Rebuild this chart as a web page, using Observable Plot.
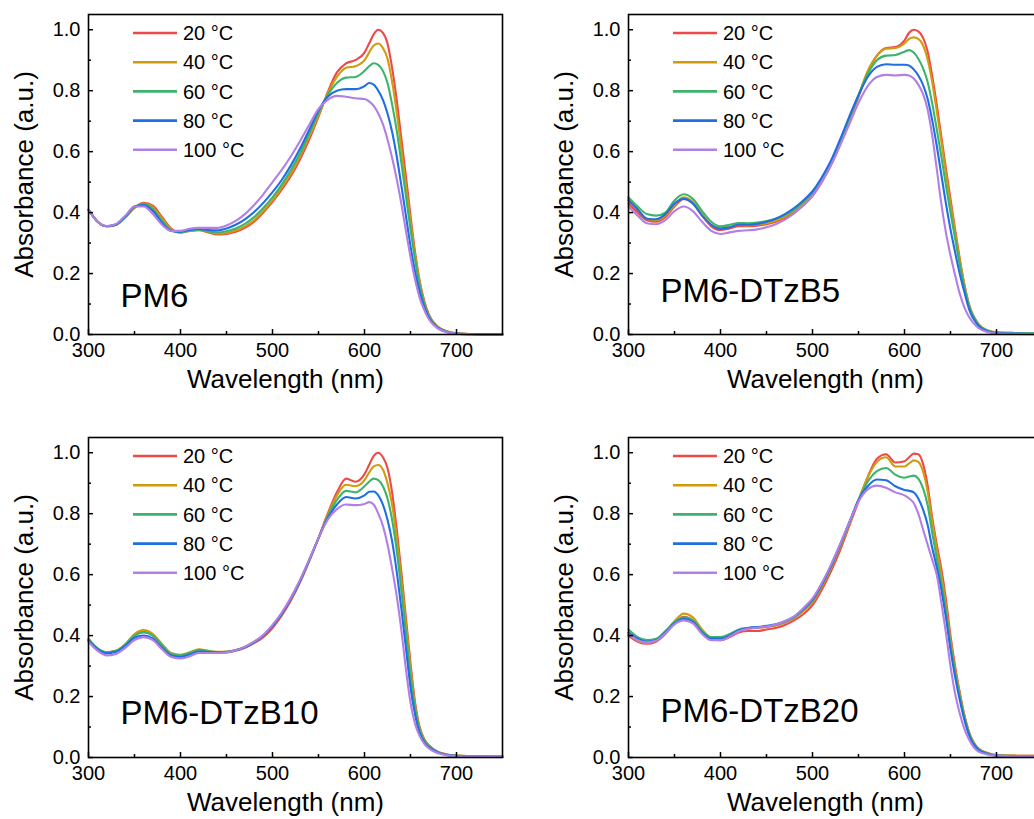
<!DOCTYPE html>
<html><head><meta charset="utf-8">
<script src="https://cdn.jsdelivr.net/npm/d3@7"></script>
<script src="https://cdn.jsdelivr.net/npm/@observablehq/plot@0.6"></script>
<style>
html,body{margin:0;padding:0;background:#fff;overflow:hidden;}
#wrap{position:relative;width:1100px;height:819px;}
.panel{position:absolute;}
</style></head><body><div id="wrap"></div>
<script>
const wavelengths = [300,310,320,330,340,350,360,370,380,390,
 400,410,420,430,440,450,460,470,480,490,
 500,510,520,530,540,550,560,570,580,590,
 600,605,610,615,620,625,630,635,640,645,
 650,655,660,665,670,680,690,700,720,750];
const temps = ["20 °C","40 °C","60 °C","80 °C","100 °C"];
const colors = ["#F04848","#CF9C0E","#3DB36C","#1F6FE3","#B27FE6"];
const panelNames = ["PM6","PM6-DTzB5","PM6-DTzB10","PM6-DTzB20"];

// PM6
const pm6_20 = [0.41,0.37,0.355,0.36,0.385,0.415,0.432,0.423,0.385,0.348,
 0.335,0.34,0.342,0.335,0.328,0.33,0.337,0.35,0.37,0.40,
 0.435,0.475,0.52,0.575,0.64,0.715,0.795,0.86,0.89,0.90,
 0.925,0.955,0.985,1.0,0.99,0.955,0.875,0.77,0.645,0.52,
 0.39,0.27,0.175,0.11,0.065,0.025,0.01,0.004,0.001,0];
const pm6_40 = [0.41,0.37,0.355,0.36,0.385,0.417,0.43,0.418,0.38,0.345,
 0.335,0.34,0.343,0.337,0.331,0.333,0.341,0.355,0.375,0.405,
 0.44,0.482,0.528,0.585,0.65,0.72,0.79,0.845,0.875,0.88,
 0.90,0.925,0.948,0.955,0.94,0.905,0.83,0.73,0.61,0.49,
 0.37,0.26,0.17,0.105,0.062,0.024,0.01,0.004,0.001,0];
const pm6_60 = [0.41,0.37,0.355,0.36,0.386,0.418,0.428,0.412,0.373,0.342,
 0.335,0.341,0.344,0.339,0.335,0.339,0.348,0.363,0.385,0.415,
 0.45,0.492,0.54,0.595,0.66,0.728,0.785,0.825,0.843,0.845,
 0.865,0.88,0.89,0.885,0.865,0.825,0.755,0.67,0.565,0.455,
 0.345,0.245,0.16,0.1,0.06,0.023,0.009,0.003,0.001,0];
const pm6_80 = [0.41,0.37,0.355,0.361,0.387,0.42,0.425,0.405,0.366,0.34,
 0.337,0.343,0.346,0.343,0.342,0.348,0.36,0.378,0.402,0.432,
 0.467,0.507,0.555,0.61,0.672,0.735,0.78,0.8,0.805,0.805,
 0.815,0.825,0.82,0.8,0.77,0.725,0.665,0.585,0.49,0.39,
 0.29,0.205,0.14,0.09,0.055,0.021,0.008,0.003,0.001,0];
const pm6_100 = [0.41,0.37,0.356,0.363,0.39,0.42,0.42,0.395,0.36,0.34,
 0.34,0.347,0.35,0.35,0.35,0.358,0.373,0.395,0.425,0.46,
 0.5,0.54,0.585,0.635,0.688,0.74,0.77,0.783,0.78,0.775,
 0.773,0.765,0.75,0.725,0.69,0.64,0.58,0.51,0.43,0.34,
 0.255,0.18,0.12,0.08,0.05,0.019,0.007,0.003,0.001,0];

// PM6-DTzB5
const b5_20 = [0.43,0.40,0.375,0.37,0.385,0.42,0.445,0.43,0.39,0.355,
 0.343,0.348,0.355,0.355,0.357,0.362,0.37,0.383,0.40,0.425,
 0.455,0.50,0.555,0.625,0.70,0.78,0.86,0.915,0.94,0.943,
 0.965,0.99,1.0,0.995,0.975,0.93,0.85,0.755,0.65,0.545,
 0.445,0.345,0.25,0.165,0.1,0.035,0.012,0.006,0.003,0.002];
const b5_40 = [0.445,0.41,0.38,0.375,0.39,0.425,0.45,0.435,0.395,0.36,
 0.35,0.353,0.36,0.358,0.36,0.365,0.373,0.387,0.405,0.43,
 0.46,0.505,0.56,0.63,0.705,0.785,0.865,0.915,0.938,0.94,
 0.955,0.97,0.975,0.97,0.95,0.905,0.83,0.735,0.635,0.53,
 0.43,0.335,0.245,0.165,0.1,0.036,0.014,0.007,0.005,0.004];
const b5_60 = [0.45,0.42,0.395,0.39,0.40,0.44,0.46,0.445,0.405,0.37,
 0.355,0.36,0.366,0.365,0.367,0.372,0.38,0.392,0.41,0.435,
 0.465,0.51,0.565,0.635,0.71,0.785,0.855,0.90,0.915,0.917,
 0.928,0.933,0.925,0.905,0.875,0.83,0.76,0.675,0.585,0.49,
 0.40,0.315,0.23,0.155,0.095,0.034,0.013,0.007,0.005,0.004];
const b5_80 = [0.44,0.41,0.38,0.378,0.395,0.43,0.445,0.43,0.39,0.36,
 0.347,0.352,0.36,0.36,0.363,0.37,0.38,0.395,0.415,0.44,
 0.47,0.515,0.57,0.64,0.715,0.785,0.845,0.878,0.887,0.885,
 0.885,0.883,0.87,0.85,0.82,0.775,0.705,0.62,0.525,0.43,
 0.345,0.27,0.2,0.14,0.085,0.03,0.011,0.005,0.003,0.002];
const b5_100 = [0.42,0.39,0.365,0.362,0.375,0.405,0.42,0.405,0.37,0.34,
 0.33,0.335,0.34,0.342,0.345,0.352,0.362,0.377,0.397,0.423,
 0.455,0.50,0.555,0.62,0.69,0.76,0.815,0.845,0.852,0.85,
 0.852,0.85,0.84,0.82,0.79,0.74,0.655,0.545,0.43,0.335,
 0.26,0.195,0.135,0.09,0.058,0.022,0.008,0.003,0.002,0.001];

// PM6-DTzB10
const b10_20 = [0.385,0.355,0.345,0.35,0.37,0.40,0.415,0.40,0.37,0.34,
 0.335,0.342,0.352,0.348,0.345,0.345,0.35,0.36,0.375,0.395,
 0.425,0.465,0.515,0.575,0.645,0.72,0.80,0.87,0.915,0.905,
 0.93,0.96,0.99,1.0,0.985,0.95,0.87,0.75,0.61,0.46,
 0.31,0.18,0.1,0.06,0.04,0.018,0.01,0.006,0.004,0.003];
const b10_40 = [0.385,0.357,0.345,0.35,0.372,0.405,0.418,0.405,0.372,0.343,
 0.337,0.345,0.355,0.35,0.347,0.348,0.353,0.363,0.38,0.40,
 0.432,0.472,0.522,0.58,0.648,0.72,0.795,0.86,0.895,0.89,
 0.91,0.935,0.955,0.96,0.945,0.9,0.83,0.72,0.585,0.44,
 0.295,0.17,0.095,0.058,0.038,0.017,0.009,0.006,0.004,0.003];
const b10_60 = [0.39,0.358,0.345,0.35,0.37,0.4,0.41,0.4,0.368,0.34,
 0.335,0.343,0.353,0.349,0.346,0.347,0.352,0.362,0.378,0.40,
 0.432,0.472,0.522,0.58,0.648,0.72,0.79,0.845,0.875,0.87,
 0.89,0.905,0.915,0.91,0.89,0.85,0.78,0.68,0.55,0.41,
 0.27,0.16,0.09,0.055,0.037,0.017,0.009,0.006,0.004,0.003];
const b10_80 = [0.385,0.355,0.342,0.347,0.367,0.393,0.40,0.39,0.36,0.335,
 0.33,0.338,0.348,0.346,0.345,0.346,0.352,0.362,0.378,0.40,
 0.432,0.472,0.522,0.58,0.648,0.72,0.785,0.83,0.855,0.85,
 0.86,0.872,0.873,0.86,0.83,0.78,0.71,0.61,0.49,0.36,
 0.23,0.14,0.08,0.05,0.034,0.016,0.008,0.005,0.003,0.002];
const b10_100 = [0.38,0.35,0.335,0.34,0.36,0.385,0.395,0.385,0.355,0.33,
 0.325,0.332,0.343,0.343,0.343,0.345,0.352,0.363,0.38,0.402,
 0.435,0.475,0.525,0.583,0.65,0.72,0.78,0.815,0.83,0.828,
 0.832,0.838,0.83,0.80,0.76,0.70,0.62,0.53,0.42,0.29,
 0.18,0.11,0.07,0.045,0.03,0.014,0.007,0.004,0.003,0.002];

// PM6-DTzB20
const b20_20 = [0.40,0.38,0.373,0.38,0.405,0.44,0.462,0.45,0.415,0.39,
 0.385,0.395,0.41,0.415,0.415,0.42,0.425,0.435,0.45,0.47,
 0.50,0.55,0.61,0.68,0.76,0.84,0.92,0.98,0.995,0.968,
 0.972,0.985,0.997,0.995,0.965,0.895,0.79,0.70,0.62,0.52,
 0.40,0.30,0.215,0.14,0.085,0.03,0.015,0.008,0.006,0.005];
const b20_40 = [0.405,0.383,0.376,0.383,0.41,0.447,0.472,0.46,0.42,0.393,
 0.39,0.402,0.418,0.423,0.425,0.428,0.432,0.442,0.457,0.48,
 0.51,0.56,0.62,0.69,0.765,0.845,0.92,0.97,0.985,0.955,
 0.955,0.965,0.975,0.97,0.94,0.875,0.775,0.685,0.6,0.5,
 0.385,0.29,0.21,0.138,0.083,0.03,0.015,0.008,0.006,0.005];
const b20_60 = [0.42,0.395,0.385,0.39,0.415,0.445,0.46,0.45,0.415,0.395,
 0.395,0.405,0.42,0.425,0.427,0.43,0.435,0.445,0.46,0.485,
 0.515,0.565,0.625,0.695,0.77,0.845,0.905,0.94,0.95,0.928,
 0.918,0.922,0.925,0.915,0.885,0.83,0.74,0.655,0.575,0.48,
 0.37,0.28,0.2,0.132,0.08,0.028,0.014,0.007,0.005,0.004];
const b20_80 = [0.41,0.39,0.38,0.385,0.41,0.44,0.455,0.445,0.41,0.39,
 0.39,0.4,0.418,0.425,0.428,0.432,0.437,0.447,0.462,0.487,
 0.518,0.568,0.628,0.698,0.772,0.845,0.89,0.912,0.91,0.89,
 0.878,0.875,0.87,0.85,0.815,0.765,0.69,0.625,0.55,0.46,
 0.355,0.265,0.19,0.125,0.075,0.026,0.012,0.006,0.004,0.003];
const b20_100 = [0.405,0.385,0.378,0.383,0.407,0.437,0.45,0.44,0.405,0.385,
 0.385,0.396,0.414,0.422,0.426,0.43,0.436,0.447,0.463,0.49,
 0.522,0.572,0.632,0.7,0.772,0.84,0.88,0.892,0.885,0.87,
 0.86,0.85,0.835,0.80,0.75,0.70,0.65,0.60,0.51,0.41,
 0.30,0.21,0.145,0.095,0.06,0.02,0.01,0.006,0.004,0.003];

const xTicks = [300,400,500,600,700];
const xMinor = [350,450,550,650];
const yTicks = [0,0.2,0.4,0.6,0.8,1.0];
const yMinor = [0.1,0.3,0.5,0.7,0.9];
const xLabel = "Wavelength (nm)";
const yLabel = "Absorbance (a.u.)";

const panels = [
  {name: panelNames[0], series: [pm6_20,pm6_40,pm6_60,pm6_80,pm6_100], left: 0, top: 0, up: 38},
  {name: panelNames[1], series: [b5_20,b5_40,b5_60,b5_80,b5_100], left: 540, top: 0, up: 43},
  {name: panelNames[2], series: [b10_20,b10_40,b10_60,b10_80,b10_100], left: 0, top: 423, up: 44},
  {name: panelNames[3], series: [b20_20,b20_40,b20_60,b20_80,b20_100], left: 540, top: 423, up: 46}
];

const font = "'Liberation Sans', Arial, Helvetica, sans-serif";
const wrap = document.getElementById("wrap");
const ML = 88, MT = 14;

for (const p of panels) {
  const rows = [];
  p.series.forEach((vals, si) => vals.forEach((v, i) => rows.push({wl: wavelengths[i], a: v, t: temps[si]})));
  const plot = Plot.plot({
    width: 520, height: 400,
    marginLeft: ML, marginRight: 18, marginTop: MT, marginBottom: 66,
    style: {fontFamily: font, background: "transparent", color: "black"},
    x: {domain: [300, 750]},
    y: {domain: [0, 1.05]},
    color: {domain: temps, range: colors},
    marks: [
      Plot.line(rows, {x: "wl", y: "a", z: "t", stroke: "t", strokeWidth: 2.1, curve: "monotone-x"}),
      Plot.frame({strokeWidth: 1.6}),
      Plot.axisX({ticks: xTicks, tickSize: -5, tickPadding: 13, tickFormat: d => String(d), fontSize: 20, label: null, strokeWidth: 1.5}),
      Plot.axisX({ticks: xMinor, tickSize: -3, tickFormat: () => "", label: null, strokeWidth: 1.5}),
      Plot.axisY({ticks: yTicks, tickSize: -5, tickPadding: 13, tickFormat: d3.format(".1f"), fontSize: 20, label: null, strokeWidth: 1.5}),
      Plot.axisY({ticks: yMinor, tickSize: -3, tickFormat: () => "", label: null, strokeWidth: 1.5}),
      Plot.text([xLabel], {frameAnchor: "bottom", dy: 45, dx: -10, fontSize: 26, lineAnchor: "middle", textAnchor: "middle"}),
      Plot.text([yLabel], {frameAnchor: "left", dx: -64, rotate: -90, fontSize: 26, lineAnchor: "middle", textAnchor: "middle"}),
      Plot.text([p.name], {frameAnchor: "bottom-left", dx: 32, dy: -p.up, fontSize: 33, textAnchor: "start", lineAnchor: "middle"})
    ]
  });
  // legend
  const svg = d3.select(plot);
  const g = svg.append("g").attr("font-family", font).attr("font-size", 20).attr("text-anchor", "start");
  temps.forEach((t, i) => {
    const y = MT + 19 + i * 29.2;
    g.append("line").attr("x1", ML + 45).attr("x2", ML + 89).attr("y1", y).attr("y2", y)
      .attr("stroke", colors[i]).attr("stroke-width", 2.6);
    g.append("text").attr("x", ML + 95).attr("y", y).attr("dy", "0.36em").attr("fill", "black").text(t);
  });
  const div = document.createElement("div");
  div.className = "panel";
  div.style.left = p.left + "px";
  div.style.top = p.top + "px";
  div.appendChild(plot);
  wrap.appendChild(div);
}
</script></body></html>
